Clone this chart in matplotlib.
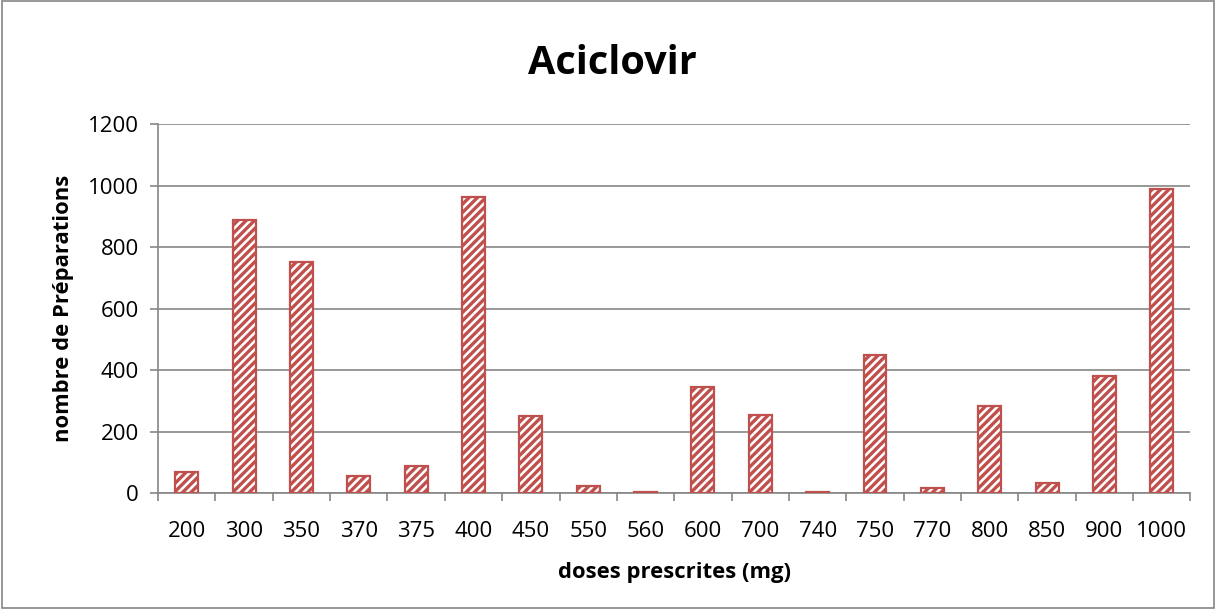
import numpy as np
import matplotlib.pyplot as plt
from matplotlib.patches import Rectangle

# doses (mg) and number of preparations
doses = ['200', '300', '350', '370', '375', '400', '450', '550', '560',
         '600', '700', '740', '750', '770', '800', '850', '900', '1000']
counts = [70, 888, 752, 55, 88, 965, 250, 25, 3,
          345, 256, 4, 450, 18, 283, 35, 380, 990]

red = '#C0504D'
grid = '#868686'

plt.rcParams['font.family'] = ['Open Sans', 'DejaVu Sans']
plt.rcParams['hatch.color'] = red
plt.rcParams['hatch.linewidth'] = 2.4

fig = plt.figure(figsize=(12.16, 6.09), dpi=100)
ax = fig.add_axes([0.130, 0.190, 0.849, 0.606])

x = np.arange(len(doses))
ax.bar(x, counts, width=0.4, facecolor='white', edgecolor=red,
       linewidth=1.6, hatch='////', zorder=3)

ax.set_xlim(-0.5, len(doses) - 0.5)
ax.set_ylim(0, 1200)
ax.set_yticks(np.arange(0, 1201, 200))
ax.set_xticks(x)
ax.set_xticklabels(doses)
ax.set_xticks(np.arange(-0.5, len(doses), 1), minor=True)
ax.tick_params(axis='x', which='major', length=0, labelsize=16, pad=20)
ax.tick_params(axis='x', which='minor', length=6, color=grid, width=1.2)
ax.tick_params(axis='y', length=6, color=grid, width=1.2, labelsize=16, pad=8)
ax.yaxis.grid(True, color=grid, linewidth=1.2, zorder=0)

for s in ['top', 'right']:
    ax.spines[s].set_visible(False)
for s in ['left', 'bottom']:
    ax.spines[s].set_color(grid)
    ax.spines[s].set_linewidth(1.2)

ax.set_xlabel('doses prescrites (mg)', fontsize=15.8, fontweight='bold', labelpad=14)
ax.set_ylabel('nombre de Préparations', fontsize=15.8, fontweight='bold', labelpad=10)
fig.text(0.504, 0.896, 'Aciclovir', ha='center', va='center',
         fontsize=28.5, fontweight='bold')

# outer chart border
fig.patches.append(Rectangle((0.002, 0.002), 0.996, 0.996, transform=fig.transFigure,
                             fill=False, edgecolor=grid, linewidth=1.2))

fig.savefig('out.png', dpi=100)
